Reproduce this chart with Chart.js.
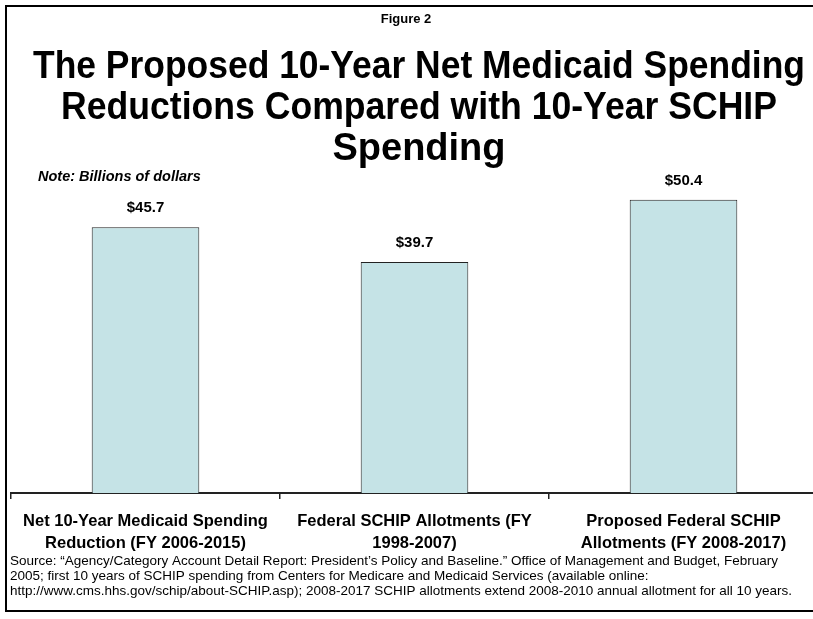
<!DOCTYPE html>
<html>
<head>
<meta charset="utf-8">
<script src="https://cdn.jsdelivr.net/npm/chart.js@4/dist/chart.umd.min.js"></script>
<style>
  html, body { margin: 0; padding: 0; background: #fff; overflow: hidden; }
  #wrap { position: relative; width: 830px; height: 619px; }
</style>
</head>
<body>
<div id="wrap"><canvas id="c" width="830" height="619"></canvas></div>
<script>
const categories = [
  ["Net 10-Year Medicaid Spending", "Reduction (FY 2006-2015)"],
  ["Federal SCHIP Allotments (FY", "1998-2007)"],
  ["Proposed Federal SCHIP", "Allotments (FY 2008-2017)"]
];
const values = [45.7, 39.7, 50.4];
const figureLabel = "Figure 2";
const titleLines = [
  "The Proposed 10-Year Net Medicaid Spending",
  "Reductions Compared with 10-Year SCHIP",
  "Spending"
];
const noteText = "Note: Billions of dollars";
const sourceLines = [
  "Source: \u201CAgency/Category Account Detail Report: President\u2019s Policy and Baseline.\u201D Office of Management and Budget, February",
  "2005; first 10 years of SCHIP spending from Centers for Medicare and Medicaid Services (available online:",
  "http://www.cms.hhs.gov/schip/about-SCHIP.asp); 2008-2017 SCHIP allotments extend 2008-2010 annual allotment for all 10 years."
];

const FONT = '"Liberation Sans", Arial, sans-serif';

const decor = {
  id: 'decor',
  beforeDraw(chart) {
    const ctx = chart.ctx;
    ctx.save();
    ctx.fillStyle = '#fff';
    ctx.fillRect(0, 0, chart.width, chart.height);
    ctx.strokeStyle = '#000';
    ctx.lineWidth = 2;
    ctx.beginPath();
    ctx.moveTo(chart.width, 6);
    ctx.lineTo(6, 6);
    ctx.lineTo(6, 611);
    ctx.lineTo(chart.width, 611);
    ctx.stroke();
    ctx.restore();
  },
  afterDraw(chart) {
    const ctx = chart.ctx;
    ctx.save();
    ctx.fillStyle = '#000';
    ctx.textAlign = 'center';
    ctx.textBaseline = 'alphabetic';
    ctx.font = 'bold 13px ' + FONT;
    ctx.fillText(figureLabel, 406, 23);
    ctx.font = 'bold 38px ' + FONT;
    const tw = [772, 716, 190];
    const tb = [78, 119, 160];
    titleLines.forEach((t, i) => ctx.fillText(t, 419, tb[i], tw[i]));
    ctx.textAlign = 'left';
    ctx.font = 'italic bold 14.5px ' + FONT;
    ctx.fillText(noteText, 38, 181, 164);
    ctx.font = '13.5px ' + FONT;
    ctx.textBaseline = 'middle';
    const sw = [777, 640, 782];
    sourceLines.forEach((t, i) => ctx.fillText(t, 10, 561 + i * 15, sw[i]));
    ctx.restore();
  },
  afterDatasetsDraw(chart) {
    const ctx = chart.ctx;
    const meta = chart.getDatasetMeta(0);
    ctx.save();
    ctx.fillStyle = '#000';
    ctx.font = 'bold 15px ' + FONT;
    ctx.textAlign = 'center';
    ctx.textBaseline = 'middle';
    meta.data.forEach((bar, i) => {
      ctx.fillText('$' + values[i].toFixed(1), bar.x, bar.y - 19);
    });
    ctx.restore();
  }
};

new Chart(document.getElementById('c'), {
  type: 'bar',
  data: {
    labels: categories,
    datasets: [{
      data: values,
      backgroundColor: '#C5E3E6',
      borderColor: '#222',
      borderWidth: 1,
      barPercentage: 0.4,
      categoryPercentage: 1.0
    }]
  },
  options: {
    responsive: false,
    animation: false,
    layout: { padding: { top: 144, left: 11, right: 12, bottom: 0 } },
    plugins: { legend: { display: false }, tooltip: { enabled: false }, title: { display: false } },
    scales: {
      x: {
        afterFit(scale) { scale.height = 126; },
        border: { display: true, color: '#222', width: 2 },
        grid: { display: true, drawOnChartArea: false, drawTicks: true, tickLength: 6, color: '#222', lineWidth: 1.5 },
        ticks: {
          color: '#000',
          padding: 11,
          maxRotation: 0,
          autoSkip: false,
          font: { family: FONT, size: 16.5, weight: 'bold', lineHeight: 1.35 }
        }
      },
      y: { display: false, min: 0, max: 60 }
    }
  },
  plugins: [decor]
});
</script>
</body>
</html>
